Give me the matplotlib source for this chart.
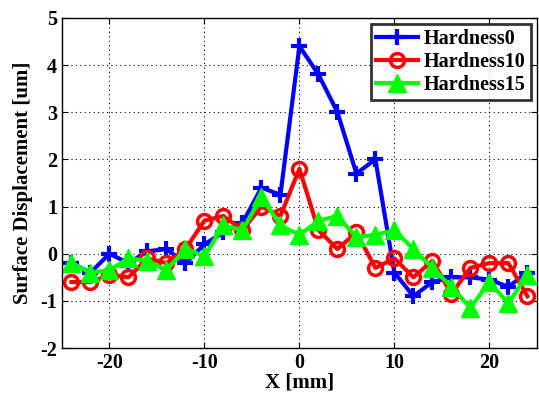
import matplotlib
matplotlib.use("Agg")
import matplotlib.pyplot as plt

plt.rcParams['font.family'] = ['Liberation Serif', 'DejaVu Serif']
plt.rcParams['font.weight'] = 'bold'
plt.rcParams['axes.unicode_minus'] = False

x_mm = [-24, -22, -20, -18, -16, -14, -12, -10, -8, -6, -4, -2, 0,
        2, 4, 6, 8, 10, 12, 14, 16, 18, 20, 22, 24]
hardness0 = [-0.2, -0.4, 0.0, -0.2, 0.05, 0.1, -0.2, 0.2, 0.45, 0.65, 1.4, 1.25, 4.4,
             3.8, 3.0, 1.7, 2.0, -0.4, -0.9, -0.6, -0.5, -0.5, -0.55, -0.7, -0.4]
hardness10 = [-0.6, -0.6, -0.45, -0.5, -0.1, -0.2, 0.1, 0.7, 0.8, 0.5, 1.0, 0.8, 1.8,
              0.5, 0.1, 0.45, -0.3, -0.1, -0.5, -0.15, -0.85, -0.3, -0.2, -0.2, -0.9]
hardness15 = [-0.2, -0.4, -0.35, -0.1, -0.15, -0.35, 0.1, -0.05, 0.6, 0.5, 1.2, 0.6, 0.4,
              0.7, 0.8, 0.35, 0.4, 0.5, 0.1, -0.3, -0.7, -1.15, -0.6, -1.05, -0.45]

fig = plt.figure(figsize=(5.39, 3.96), dpi=100)
ax = fig.add_axes([0.115, 0.121, 0.881, 0.834])

ax.plot(x_mm, hardness0, color='#0000ff', lw=3, marker='+', ms=12, mew=3,
        label='Hardness0')
ax.plot(x_mm, hardness10, color='#ff0000', lw=3, marker='o', ms=10, mew=2.5,
        mfc='none', label='Hardness10')
ax.plot(x_mm, hardness15, color='#00ff00', lw=3, marker='^', ms=13, mew=1,
        label='Hardness15')

ax.set_xlim(-25, 25)
ax.set_ylim(-2, 5)
ax.set_xticks([-20, -10, 0, 10, 20])
ax.set_yticks(range(-2, 6))
ax.grid(True, color='black', linestyle=(0, (1, 3)), linewidth=0.8)
ax.tick_params(direction='in', top=True, right=True, labelsize=14.5, length=4)
for s in ax.spines.values():
    s.set_linewidth(1)

ax.set_xlabel('X [mm]', fontsize=15, fontweight='bold', labelpad=0)
ax.set_ylabel('Surface Displacement [um]', fontsize=15, fontweight='bold', labelpad=5)

leg = ax.legend(loc='upper right', fontsize=14.5, frameon=True, fancybox=False,
                edgecolor='black', handlelength=2.1, borderpad=0.25,
                labelspacing=0.15, handletextpad=0.3, borderaxespad=0.3)
leg.get_frame().set_linewidth(2)

fig.savefig('out.png', dpi=100)
